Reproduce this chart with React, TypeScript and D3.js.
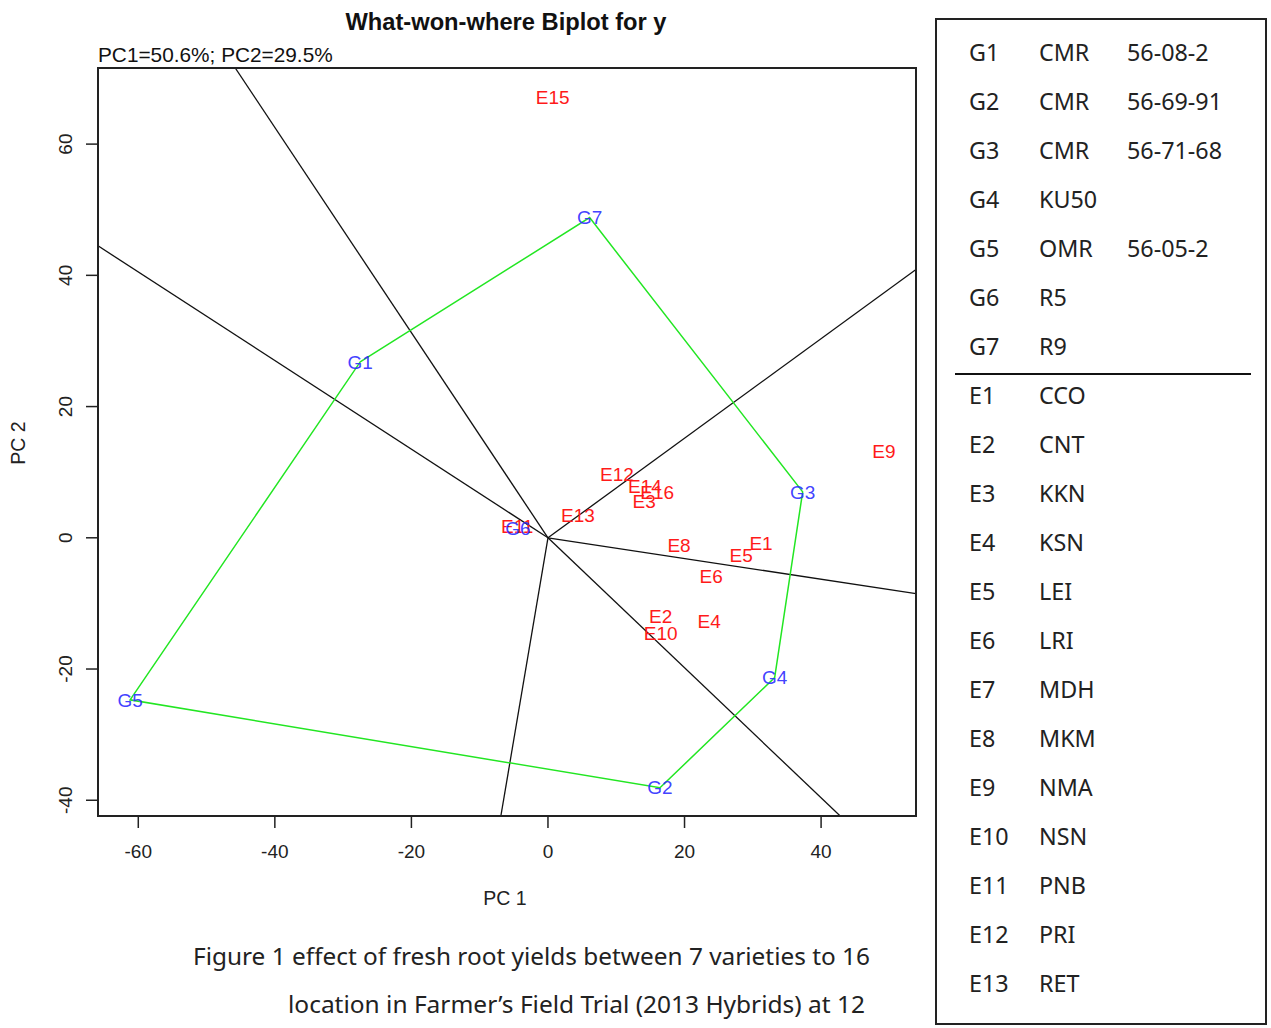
import * as d3 from "d3";

// GGE biplot scores (PC1, PC2)
const genotypes = ["G1", "G2", "G3", "G4", "G5", "G6", "G7"];
const genoPC1 = [-27.5, 16.4, 37.3, 33.2, -61.2, -4.4, 6.1];
const genoPC2 = [26.8, -38.1, 7.0, -21.3, -24.7, 1.5, 48.8];

const envs = ["E1", "E2", "E3", "E4", "E5", "E6", "E8", "E9", "E10", "E11", "E12", "E13", "E14", "E15", "E16"];
const envPC1 = [31.2, 16.5, 14.1, 23.6, 28.3, 23.9, 19.2, 49.2, 16.5, -4.5, 10.1, 4.4, 14.2, 0.7, 16.0];
const envPC2 = [-0.8, -12.0, 5.6, -12.7, -2.6, -5.9, -1.1, 13.1, -14.6, 1.7, 9.6, 3.4, 7.8, 67.1, 7.0];

// convex hull order of the winning genotypes
const hull = ["G1", "G7", "G3", "G4", "G2", "G5"];

// ends of the sector rays, read where they leave the box
const rayPC1 = [-45.8, 53.9, 53.9, 42.8, -6.9, -65.9];
const rayPC2 = [71.6, 40.9, -8.5, -42.4, -42.4, 44.5];

const xTicks = [-60, -40, -20, 0, 20, 40];
const yTicks = [-40, -20, 0, 20, 40, 60];

const legendCodes = ["G1", "G2", "G3", "G4", "G5", "G6", "G7", "E1", "E2", "E3", "E4", "E5", "E6", "E7", "E8", "E9", "E10", "E11", "E12", "E13"];
const legendNames = ["CMR", "CMR", "CMR", "KU50", "OMR", "R5", "R9", "CCO", "CNT", "KKN", "KSN", "LEI", "LRI", "MDH", "MKM", "NMA", "NSN", "PNB", "PRI", "RET"];
const legendLines = ["56-08-2", "56-69-91", "56-71-68", "", "56-05-2", "", "", "", "", "", "", "", "", "", "", "", "", "", "", ""];

const W = 1271;
const H = 1028;
const box = { left: 98, right: 916, top: 68, bottom: 816 };
const font = "'Liberation Sans', Arial, sans-serif";
const capFont = "'Noto Sans', 'Open Sans', sans-serif";

export default function App() {
  const x = d3.scaleLinear().domain([-65.9, 53.9]).range([box.left, box.right]);
  const y = d3.scaleLinear().domain([71.6, -42.4]).range([box.top, box.bottom]);

  const gpos = new Map(genotypes.map((g, i) => [g, [genoPC1[i], genoPC2[i]]]));
  const hullPts = hull.map((g) => gpos.get(g) as number[]);
  const line = d3
    .line<number[]>()
    .x((d) => x(d[0]))
    .y((d) => y(d[1]))
    .curve(d3.curveLinearClosed);

  const rowY = d3.scaleLinear().domain([0, 1]).range([53, 102]);

  return (
    <svg width={W} height={H} style={{ position: "absolute", left: 0, top: 0, background: "#fff" }}>
      <defs>
        <clipPath id="plotclip">
          <rect x={box.left} y={box.top} width={box.right - box.left} height={box.bottom - box.top} />
        </clipPath>
      </defs>

      <text x={506} y={30} textAnchor="middle" fontFamily={font} fontWeight="bold" fontSize={23.7} fill="#111">
        What-won-where Biplot for y
      </text>
      <text x={98} y={62} fontFamily={font} fontSize={20.8} fill="#111">
        PC1=50.6%; PC2=29.5%
      </text>

      <g clipPath="url(#plotclip)">
        {rayPC1.map((rx, i) => (
          <line key={i} x1={x(0)} y1={y(0)} x2={x(rx)} y2={y(rayPC2[i])} stroke="#111" strokeWidth={1.3} />
        ))}
        <path d={line(hullPts) || ""} fill="none" stroke="#22e622" strokeWidth={1.5} />
        {envs.map((e, i) => (
          <text key={e} x={x(envPC1[i])} y={y(envPC2[i])} dy="0.35em" textAnchor="middle" fontFamily={font} fontSize={19} fill="#ff1a1a">
            {e}
          </text>
        ))}
        {genotypes.map((g, i) => (
          <text key={g} x={x(genoPC1[i])} y={y(genoPC2[i])} dy="0.35em" textAnchor="middle" fontFamily={font} fontSize={19} fill="#2a2aff" fillOpacity={0.9}>
            {g}
          </text>
        ))}
      </g>

      <rect x={box.left} y={box.top} width={box.right - box.left} height={box.bottom - box.top} fill="none" stroke="#222" strokeWidth={2} />

      {xTicks.map((t) => (
        <g key={t}>
          <line x1={x(t)} x2={x(t)} y1={box.bottom} y2={box.bottom + 12} stroke="#222" strokeWidth={1.5} />
          <text x={x(t)} y={box.bottom + 42} textAnchor="middle" fontFamily={font} fontSize={19} fill="#222">
            {t}
          </text>
        </g>
      ))}
      {yTicks.map((t) => (
        <g key={t}>
          <line x1={box.left - 12} x2={box.left} y1={y(t)} y2={y(t)} stroke="#222" strokeWidth={1.5} />
          <text
            transform={`translate(${box.left - 26},${y(t)}) rotate(-90)`}
            textAnchor="middle"
            fontFamily={font}
            fontSize={19}
            fill="#222"
          >
            {t}
          </text>
        </g>
      ))}
      <text x={505} y={905} textAnchor="middle" fontFamily={font} fontSize={19.5} fill="#222">
        PC 1
      </text>
      <text transform="translate(25,443) rotate(-90)" textAnchor="middle" fontFamily={font} fontSize={19.5} fill="#222">
        PC 2
      </text>

      <text x={193} y={965} fontFamily={capFont} fontSize={23} fill="#222" textLength={677} lengthAdjust="spacingAndGlyphs">
        Figure 1 effect of fresh root yields between 7 varieties to 16
      </text>
      <text x={288} y={1013} fontFamily={capFont} fontSize={23} fill="#222" textLength={577} lengthAdjust="spacingAndGlyphs">
        location in Farmer’s Field Trial (2013 Hybrids) at 12
      </text>

      <rect x={936} y={19} width={330} height={1005} fill="#fff" stroke="#222" strokeWidth={2} />
      <line x1={955} x2={1251} y1={374} y2={374} stroke="#111" strokeWidth={2} />
      {legendCodes.map((c, i) => (
        <g key={c} fontFamily={capFont} fontSize={23.3} fill="#222">
          <text x={969} y={rowY(i)} dy="0.35em">{c}</text>
          <text x={1039} y={rowY(i)} dy="0.35em">{legendNames[i]}</text>
          {legendLines[i] && <text x={1127} y={rowY(i)} dy="0.35em">{legendLines[i]}</text>}
        </g>
      ))}
    </svg>
  );
}
